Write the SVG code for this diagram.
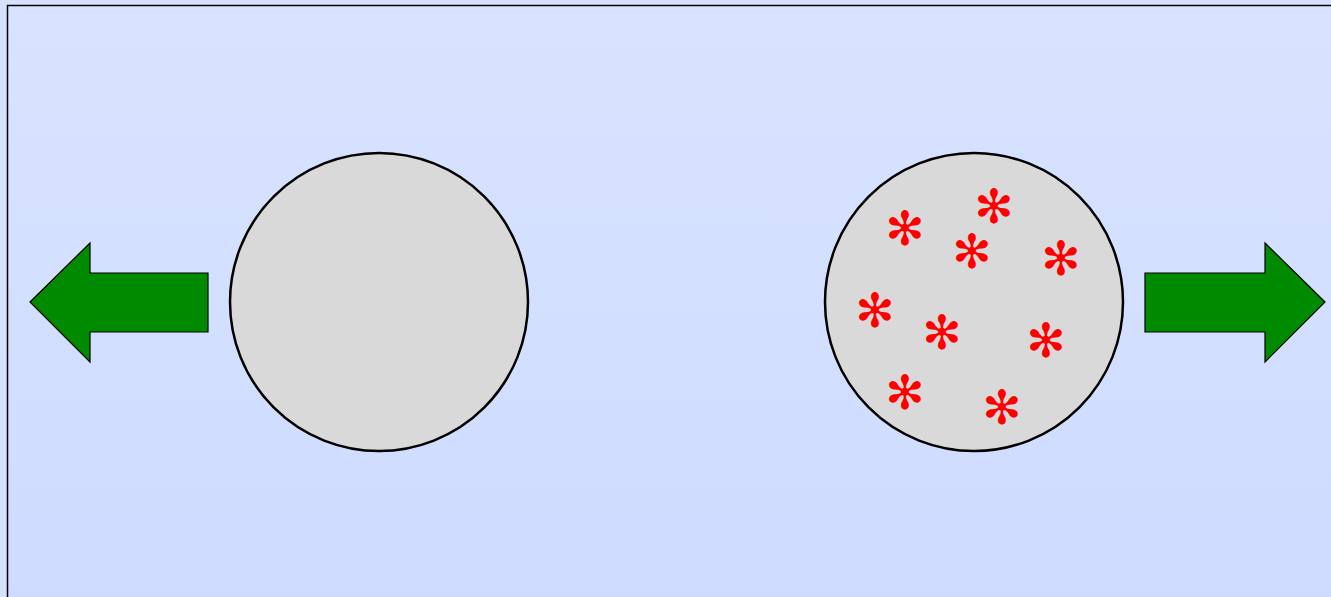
<svg xmlns="http://www.w3.org/2000/svg" width="1331" height="597" viewBox="0 0 1331 597">
<defs>
<linearGradient id="bg" x1="0" y1="0" x2="0" y2="1">
<stop offset="0" stop-color="#d8e3ff"/>
<stop offset="1" stop-color="#cddaff"/>
</linearGradient>
<style>
.circ{fill:#d9d9d9;stroke:#000;stroke-width:2.5}
.arr{fill:#008a00;stroke:#000;stroke-width:1.2}
.ast{font-family:"DejaVu Sans",sans-serif;font-size:47px;fill:#ff0000;text-anchor:middle}
</style>
</defs>
<rect x="0" y="0" width="1331" height="597" fill="#d6e2fd"/>
<rect x="7.5" y="5.5" width="1400" height="700" fill="url(#bg)" stroke="#000" stroke-width="1.5"/>
<g id="circle-left"><circle class="circ" cx="379" cy="302" r="149"/></g>
<g id="circle-right">
<circle class="circ" cx="974" cy="302" r="149"/>
<g class="ast">
<text x="994" y="223">✻</text>
<text x="905" y="245">✻</text>
<text x="972" y="268">✻</text>
<text x="1061" y="275">✻</text>
<text x="875" y="327">✻</text>
<text x="942" y="349">✻</text>
<text x="1046" y="357">✻</text>
<text x="905" y="409">✻</text>
<text x="1002" y="424">✻</text>
</g>
</g>
<g id="connectors">
<polygon id="arrow-left" class="arr" points="30,302 90,243 90,273 208,273 208,332 90,332 90,362"/>
<polygon id="arrow-right" class="arr" points="1325,302 1265,243 1265,273 1145,273 1145,332 1265,332 1265,362"/>
</g>
</svg>
